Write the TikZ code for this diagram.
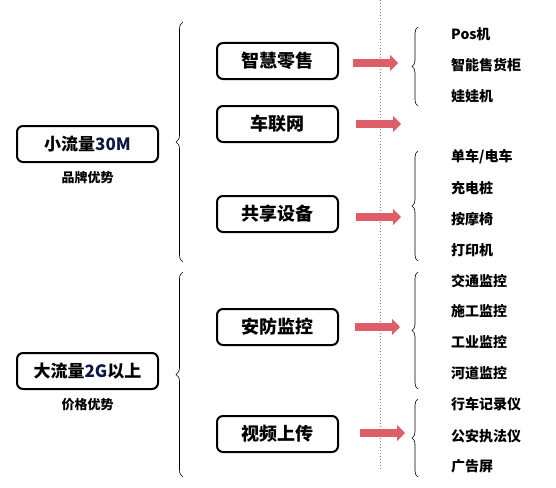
\documentclass[tikz,border=0pt]{standalone}
\usepackage{fontspec}
\setmainfont{Noto Sans CJK SC}
\usetikzlibrary{positioning, decorations.pathreplacing, arrows.meta}
\definecolor{arrowred}{RGB}{221,94,102}
\definecolor{numblue}{RGB}{12,24,70}
\tikzset{%
	flow/.style={draw, line width=2pt, rounded corners=6pt, minimum width=141pt,%
		minimum height=36pt, inner sep=0pt, font=\fontsize{17}{17}\selectfont\bfseries},
	scene/.style={draw, line width=2pt, rounded corners=6pt, minimum width=121pt,%
		minimum height=36pt, inner sep=0pt, font=\fontsize{18}{18}\selectfont\bfseries},
	tag/.style={inner sep=0pt, font=\fontsize{13}{13}\selectfont\bfseries},
	item/.style={anchor=west, inner sep=0pt, font=\fontsize{14}{14}\selectfont\bfseries},
	bigbrace/.style={draw, line width=0.6pt, decorate, decoration={brace, amplitude=7pt}},
	smallbrace/.style={draw, line width=0.6pt, decorate, decoration={brace, amplitude=6pt}},
	push/.style={draw=arrowred, line width=7.5pt, -{Triangle[length=8pt, width=16pt]}},
	divider/.style={draw=gray, line width=1pt, dotted}
}
\begin{document}
\begin{tikzpicture}[x=1pt, y=-1pt, node distance=8pt]
	\useasboundingbox (0,0) rectangle (556,487);

	% traffic tiers
	\node[flow] (small) at (87.5,144) {小流量\textcolor{numblue}{30M}};
	\node[tag, below=of small] (brand) {品牌优势};
	\node[flow] (large) at (87.5,371) {大流量\textcolor{numblue}{2G}以上};
	\node[tag, below=of large] (price) {价格优势};

	% scenes
	\node[scene] (retail) at (277.5,61) {智慧零售};
	\node[scene] (iov) at (277.5,124) {车联网};
	\node[scene] (share) at (277.5,214) {共享设备};
	\node[scene] (secure) at (277.5,327) {安防监控};
	\node[scene] (video) at (277.5,434) {视频上传};

	% devices
	\node[item] (pos) at (451,34) {Pos机};
	\node[item] (vend) at (451,65) {智能售货柜};
	\node[item] (claw) at (451,96) {娃娃机};
	\node[item] (bike) at (451,157) {单车/电车};
	\node[item] (charge) at (451,188) {充电桩};
	\node[item] (massage) at (451,219) {按摩椅};
	\node[item] (printer) at (451,250) {打印机};
	\node[item] (traffic) at (451,281) {交通监控};
	\node[item] (build) at (451,311) {施工监控};
	\node[item] (industry) at (451,342) {工业监控};
	\node[item] (river) at (451,373) {河道监控};
	\node[item] (dashcam) at (451,404) {行车记录仪};
	\node[item] (police) at (451,436) {公安执法仪};
	\node[item] (screen) at (451,466) {广告屏};

	% brace and arrow ends
	\coordinate (b1-top) at (183,22);
	\coordinate (b1-bot) at (183,262);
	\coordinate (b2-top) at (183,272);
	\coordinate (b2-bot) at (183,477);
	\coordinate (s1-top) at (418,27);
	\coordinate (s1-bot) at (418,106);
	\coordinate (s2-top) at (418,151);
	\coordinate (s2-bot) at (418,261);
	\coordinate (s3-top) at (418,272);
	\coordinate (s3-bot) at (418,389);
	\coordinate (s4-top) at (418,399);
	\coordinate (s4-bot) at (418,477);
	\coordinate (line-top) at (380,0);
	\coordinate (line-bot) at (380,470);
	\coordinate (a1-s) at (353,63);
	\coordinate (a1-e) at (398,63);
	\coordinate (a2-s) at (356,124);
	\coordinate (a2-e) at (401,124);
	\coordinate (a3-s) at (356,217);
	\coordinate (a3-e) at (401,217);
	\coordinate (a4-s) at (355,327);
	\coordinate (a4-e) at (400,327);
	\coordinate (a5-s) at (360,433);
	\coordinate (a5-e) at (405,433);

	\draw[divider] (line-top) -- (line-bot);

	\draw[bigbrace] (b1-bot) -- (b1-top);
	\draw[bigbrace] (b2-bot) -- (b2-top);
	\draw[smallbrace] (s1-bot) -- (s1-top);
	\draw[smallbrace] (s2-bot) -- (s2-top);
	\draw[smallbrace] (s3-bot) -- (s3-top);
	\draw[smallbrace] (s4-bot) -- (s4-top);

	\draw[push] (a1-s) -- (a1-e);
	\draw[push] (a2-s) -- (a2-e);
	\draw[push] (a3-s) -- (a3-e);
	\draw[push] (a4-s) -- (a4-e);
	\draw[push] (a5-s) -- (a5-e);
\end{tikzpicture}
\end{document}
